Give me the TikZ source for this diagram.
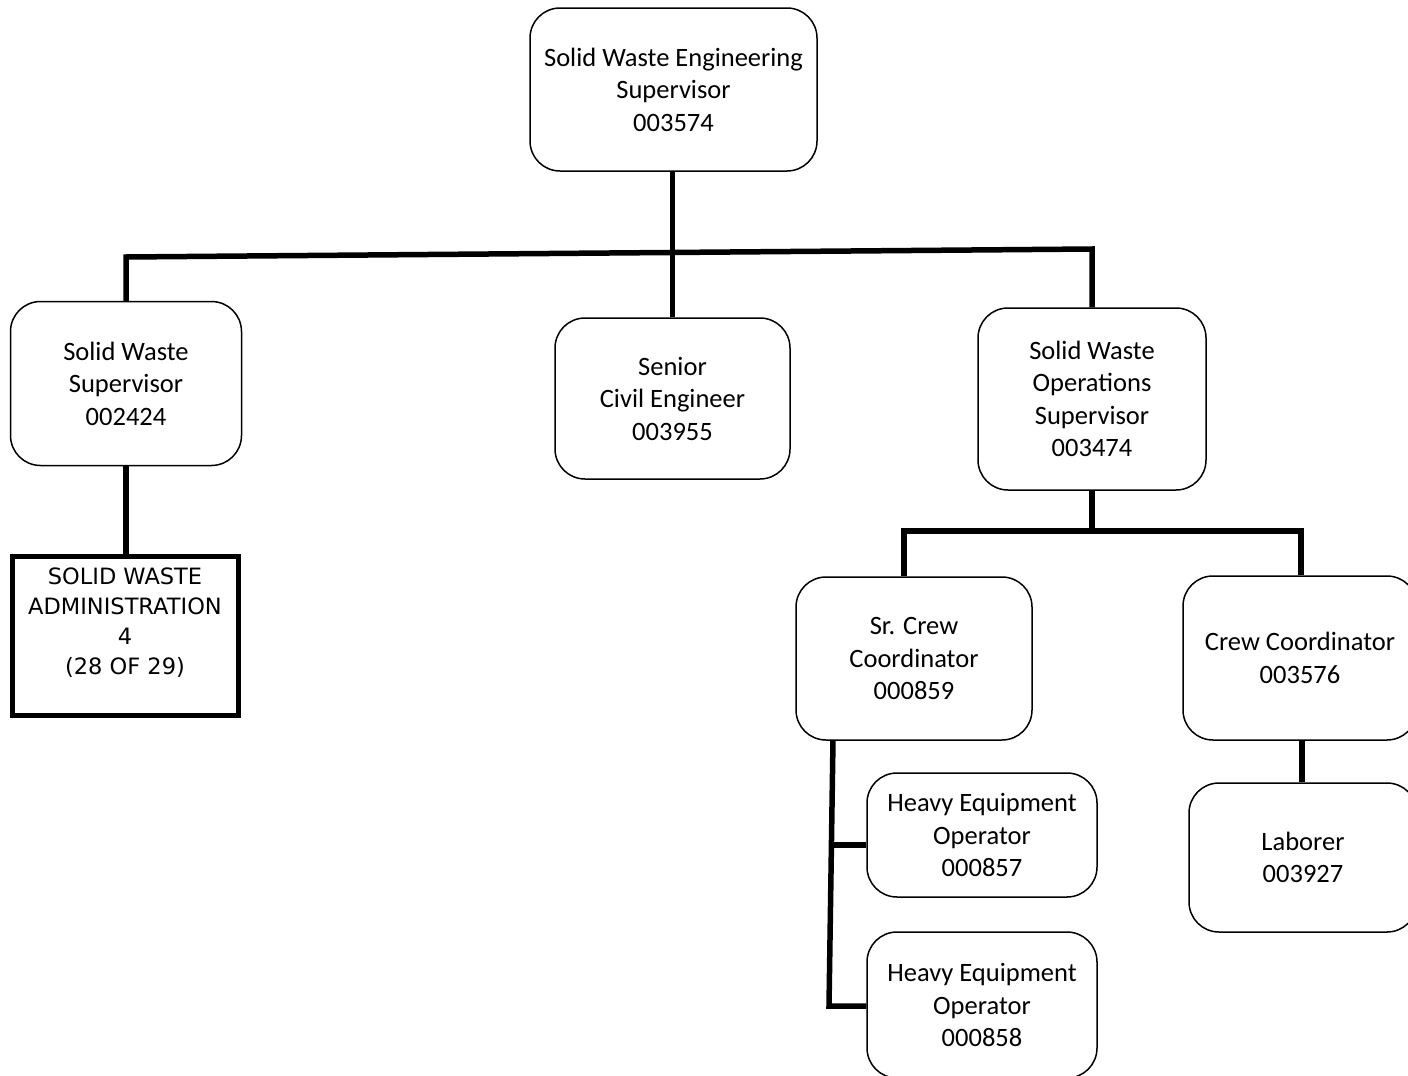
\documentclass[tikz,border=0pt]{standalone}
\usepackage{fontspec}
\setmainfont{Carlito}
\newfontfamily\verd{DejaVu Sans}
\begin{document}
\begin{tikzpicture}[x=1pt,y=-1pt,
  box/.style={draw=black,line width=1.5pt,rounded corners=30pt,inner sep=0pt,align=center,
    font=\fontsize{26.5}{32.5}\selectfont,fill=white},
  conn/.style={draw=black,line width=5.5pt,line join=miter}]
\useasboundingbox (0,0) rectangle (1408,1076);
% nodes
\node[box,minimum width=287pt,minimum height=163pt] (top) at (673.5,89.5) {Solid Waste Engineering\\Supervisor\\003574};
\node[box,minimum width=231pt,minimum height=164pt] (sws) at (126,383.5) {Solid Waste\\Supervisor\\002424};
\node[draw=black,line width=5pt,inner sep=0pt,minimum width=226pt,minimum height=159pt] (admin) at (125,635.5)
  {\begin{minipage}[c][159pt][t]{226pt}\centering\verd\fontsize{22.5}{30}\selectfont\vspace*{12pt}SOLID WASTE\\ADMINISTRATION\\4\\(28 OF 29)\end{minipage}};
\node[box,minimum width=235pt,minimum height=161pt] (civ) at (672.5,398.5) {Senior\\Civil Engineer\\003955};
\node[box,minimum width=228pt,minimum height=182pt] (ops) at (1092,399) {Solid Waste\\Operations\\Supervisor\\003474};
\node[box,minimum width=236pt,minimum height=163pt] (src) at (914,658.5) {Sr. Crew\\Coordinator\\000859};
\node[box,minimum width=234pt,minimum height=164pt] (cc) at (1300,658) {Crew Coordinator\\003576};
\node[box,minimum width=228pt,minimum height=149pt] (lab) at (1303,857.5) {Laborer\\003927};
\node[box,minimum width=230pt,minimum height=124pt] (heo1) at (982,835) {Heavy Equipment\\Operator\\000857};
\node[box,minimum width=230pt,minimum height=146pt] (heo2) at (982,1005) {Heavy Equipment\\Operator\\000858};
% coordinates
\coordinate (busL) at (126,257);
\coordinate (busR) at (1092,249);
\coordinate (b2L) at (904,531);
\coordinate (b2R) at (1301,531);
\coordinate (t1) at (833,740);
\coordinate (t2) at (829,1006);
\coordinate (j1) at (831.5,845);
\coordinate (lc) at (1302,740);
% connectors
\draw[conn] (sws.north) -- (busL) -- (busR) -- (ops.north);
\draw[conn] (top.south -| civ.north) -- (civ.north);
\draw[conn] (sws.south) -- (sws.south |- admin.north);
\draw[conn] (ops.south) -- (ops.south |- b2L);
\draw[conn] (b2L |- src.north) -- (b2L) -- (b2R) -- (b2R |- cc.north);
\draw[conn] (lc) -- (lc |- lab.north);
\draw[conn] (t1) -- (t2) -- (t2 -| heo2.west);
\draw[conn] (j1) -- (j1 -| heo1.west);
\end{tikzpicture}
\end{document}
